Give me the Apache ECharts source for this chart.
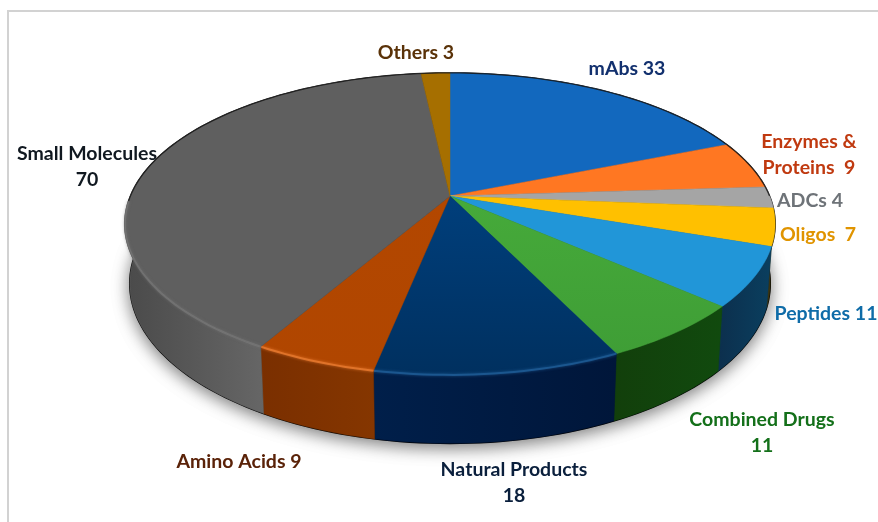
<!DOCTYPE html>
<html><head><meta charset="utf-8">
<style>html,body{margin:0;padding:0;background:#fff}#c{width:878px;height:522px}</style>
<script src="https://cdn.jsdelivr.net/npm/echarts@6/dist/echarts.min.js"></script>
</head><body><div id="c"></div>
<script>
const categories = ['mAbs','Enzymes & Proteins','ADCs','Oligos','Peptides','Combined Drugs','Natural Products','Amino Acids','Small Molecules','Others'];
const values = [33,9,4,7,11,11,18,9,70,3];
const topColors = ['#1268BE','#FF7722','#A5A5A5','#FFC000','#2196D8','#46AA3A','#003F7C','#B34700','#5F5F5F','#A66F00'];
const topShade  = ['#1268BE','#FF7722','#A5A5A5','#FFC000','#2196D8','#3F9E36','#00305F','#B04600','#5F5F5F','#A66F00'];
const sideLeft  = ['#0b3f73','#994a10','#666666','#3A3410','#0C2F4D','#123F0B','#001F4A','#7A2F00','#4A4A4A','#664400'];
const sideRight = ['#0b3f73','#994a10','#666666','#3A3410','#0A3F5F','#114A0E','#00163A','#853600','#666666','#664400'];
const rimLight  = ['','','','','','','#1F5C96','#E87A30','#7E7E7E',''];
const labelTexts = ['mAbs 33','Enzymes &\nProteins  9','ADCs 4','Oligos  7','Peptides 11','Combined Drugs\n11','Natural Products\n18','Amino Acids 9','Small Molecules\n70','Others 3'];
const labelColors = ['#12306E','#C03A10','#6E7378','#E09400','#0F6CA8','#14701A','#0A1F3C','#5A2208','#101820','#5A3208'];
const labelAnchors = [[627,69],[809,155],[810,201],[818,235],[826,314],[762,433],[514,483],[239,462],[87,167],[416,53]];

const total = values.reduce((a,b)=>a+b,0);
const cx=450, cy=196, Rx=319.5, Ry=145.8, persp=0.185, depth=58, shrink=0.985;
function proj(deg, lower){
  const a=deg*Math.PI/180, u=Math.sin(a), v=-Math.cos(a), s=1/(1-persp*v);
  const k=lower?shrink:1;
  return [cx+Rx*u*s*k, cy+Ry*v*s*k+(lower?depth*s:0)];
}
function arc(a0,a1,lower){
  const n=Math.max(2,Math.ceil(Math.abs(a1-a0)/1.5)), p=[];
  for(let i=0;i<=n;i++) p.push(proj(a0+(a1-a0)*i/n,lower));
  return p;
}
const VIS0=90, VIS1=276;

function renderSlice(params, api){
  const i=params.dataIndex;
  let before=0; for(let j=0;j<i;j++) before+=values[j];
  const a0=before/total*360, a1=(before+api.value(0))/total*360;
  const children=[];
  const s0=Math.max(a0,VIS0), s1=Math.min(a1,VIS1);
  if(s1>s0){
    const sideTop=arc(s0,s1,false), sideBot=arc(s1,s0,true);
    children.push({type:'polygon',shape:{points:sideTop.concat(sideBot)},
      style:{fill:new echarts.graphic.LinearGradient(0,0,1,0,[{offset:0,color:sideLeft[i]},{offset:1,color:sideRight[i]}]),
      stroke:sideRight[i],lineWidth:0.5}});
  }
  const rimPts=arc(a0,a1,false);
  children.push({type:'polygon',shape:{points:[[cx,cy]].concat(rimPts)},
    style:{fill:new echarts.graphic.LinearGradient(0,0,0,1,[{offset:0,color:topColors[i]},{offset:1,color:topShade[i]}]),
      stroke:topColors[i],lineWidth:0.5}});
  if(s1>s0 && rimLight[i]){
    const hi0=Math.max(s0,a0), hi1=Math.min(s1,i===8?268:s1);
    children.push({type:'polyline',shape:{points:arc(hi0,hi1,false)},
      style:{fill:'none',stroke:rimLight[i],lineWidth:2,opacity:i===8?0.55:0.8,shadowBlur:3,shadowColor:rimLight[i]}});
  }
  return {type:'group',children};
}
function renderBase(){
  const top=arc(0,360,false), bot=arc(0,360,true);
  const sh={shadowBlur:16,shadowColor:'rgba(0,0,0,0.5)',shadowOffsetY:4};
  return {type:'group',children:[
    {type:'polygon',shape:{points:bot},style:Object.assign({fill:'#111',stroke:'#000',lineWidth:1.6},sh)},
    {type:'polygon',shape:{points:top},style:{fill:'#111',stroke:'#111',lineWidth:1.6}}
  ]};
}
function renderOutline(){
  return {type:'polyline',shape:{points:arc(268,450,false)},style:{fill:'none',stroke:'#1A1A1A',lineWidth:1.1,opacity:0.85}};
}
const chart=echarts.init(document.getElementById('c'),null,{renderer:'canvas'});
chart.setOption({
  animation:false,
  backgroundColor:'#fff',
  graphic:[
    {type:'polyline',silent:true,shape:{points:[[8,522],[8,11],[878,11]]},style:{fill:'none',stroke:'#D2D2D2',lineWidth:2}},
    ...labelTexts.map((t,i)=>({type:'text',silent:true,z:10,x:labelAnchors[i][0],y:labelAnchors[i][1],
      style:{text:t,fill:labelColors[i],font:'bold 19.5px Lato',align:'center',verticalAlign:'middle',lineHeight:26}}))
  ],
  series:[
    {type:'custom',coordinateSystem:'none',silent:true,z:1,data:[0],renderItem:renderBase},
    {type:'custom',coordinateSystem:'none',silent:true,z:2,
     data:values.map((v,i)=>({name:categories[i],value:[v]})),renderItem:renderSlice},
    {type:'custom',coordinateSystem:'none',silent:true,z:3,data:[0],renderItem:renderOutline}
  ]
});
</script></body></html>
